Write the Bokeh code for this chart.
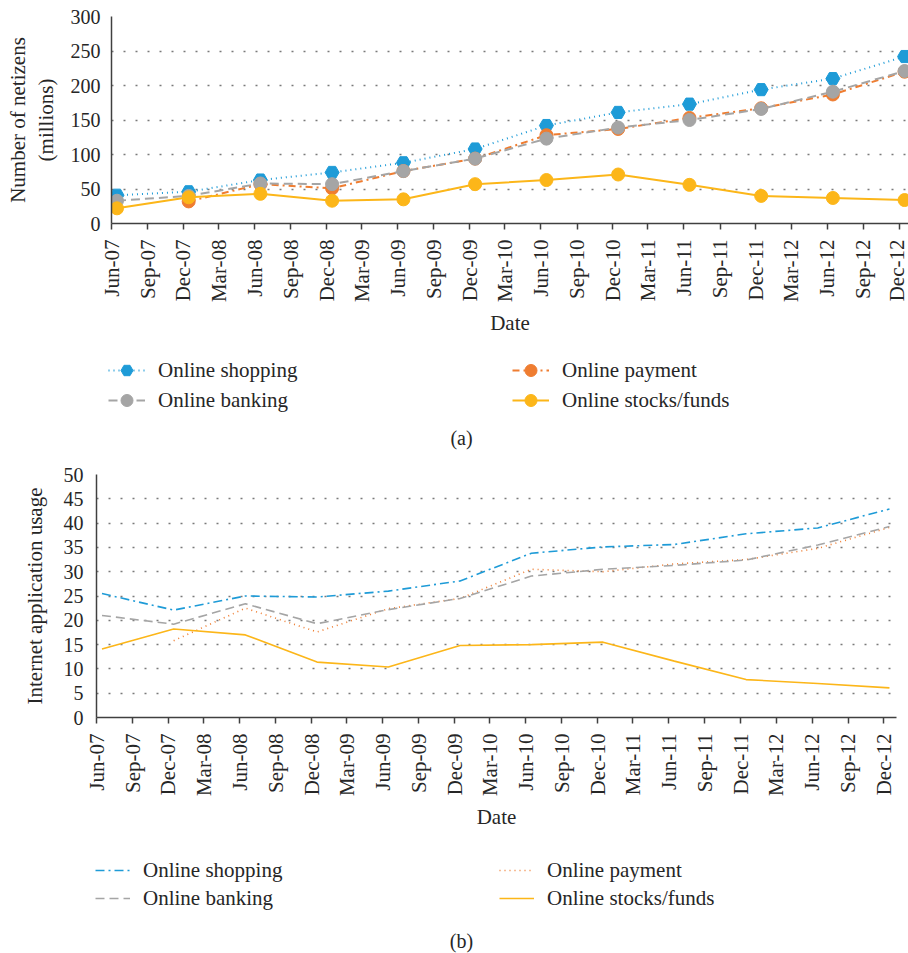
import math
import numpy as np
import pandas as pd
from bokeh.plotting import figure
from bokeh.models import (FixedTicker, DatetimeTickFormatter, Legend, LegendItem,
                          Label, Range1d, ColumnDataSource)
from bokeh.embed import file_html
from bokeh.resources import INLINE

# ---------------- data ----------------
survey_dates = ["Jun-07", "Dec-07", "Jun-08", "Dec-08", "Jun-09", "Dec-09",
                "Jun-10", "Dec-10", "Jun-11", "Dec-11", "Jun-12", "Dec-12"]

tick_labels = ["Jun-07", "Sep-07", "Dec-07", "Mar-08", "Jun-08", "Sep-08", "Dec-08",
               "Mar-09", "Jun-09", "Sep-09", "Dec-09", "Mar-10", "Jun-10", "Sep-10",
               "Dec-10", "Mar-11", "Jun-11", "Sep-11", "Dec-11", "Mar-12", "Jun-12",
               "Sep-12", "Dec-12"]

series_names = ["Online shopping", "Online payment", "Online banking", "Online stocks/funds"]

# (a) number of netizens (millions)
users_shopping = [41, 46, 63, 74, 88, 108, 142, 161, 173, 194, 210, 242]
users_payment = [np.nan, 32, 57, 51, 76, 94, 128, 137, 153, 167, 187, 220]
users_banking = [33, 40, 58, 57, 76, 94, 123, 139, 150, 166, 191, 221]
users_stocks = [22, 38, 43, 33, 35, 57, 63, 71, 56, 40, 37, 34]

# (b) internet application usage (%)
rate_shopping = [25.5, 22.1, 25.0, 24.8, 26.0, 28.1, 33.8, 35.1, 35.6, 37.8, 39.0, 42.9]
rate_payment = [np.nan, 15.8, 22.5, 17.6, 22.4, 24.5, 30.5, 30.0, 31.6, 32.5, 34.8, 39.1]
rate_banking = [21.0, 19.2, 23.4, 19.3, 22.2, 24.5, 29.1, 30.5, 31.3, 32.4, 35.5, 39.3]
rate_stocks = [14.1, 18.2, 17.0, 11.4, 10.4, 14.8, 15.0, 15.5, 11.6, 7.8, 7.0, 6.1]

# ---------------- styling ----------------
FONT = "Liberation Serif"
TXT = "#262626"
AX = "#404040"
C_SHOP = "#1E9BD7"
C_PAY = "#EF7D31"
C_BANK = "#A5A5A5"
C_STOCK = "#FCB619"

obs_x = pd.to_datetime(survey_dates, format="%b-%y") + pd.Timedelta(days=14)
tick_dt = pd.to_datetime(tick_labels, format="%b-%y")
tick_ms = [t.timestamp() * 1000.0 for t in tick_dt]
x_start = tick_dt[0]


def base_figure(width, height, frame_days, y_end, y_step, ylabel,
                b_left, b_right, b_top, b_bottom, ylab_standoff, yaxlab_standoff):
    p = figure(width=width, height=height, x_axis_type="datetime",
               output_backend="svg", toolbar_location=None,
               min_border_left=b_left, min_border_right=b_right,
               min_border_top=b_top, min_border_bottom=b_bottom)
    p.x_range = Range1d(x_start, x_start + pd.Timedelta(days=frame_days))
    p.y_range = Range1d(0, y_end)
    p.outline_line_color = None
    p.background_fill_color = "white"
    p.border_fill_color = "white"

    p.xgrid.visible = False
    p.ygrid.grid_line_color = "#7a7a7a"
    p.ygrid.grid_line_dash = "2 10"
    p.ygrid.grid_line_width = 1.5

    xa = p.xaxis[0]
    xa.ticker = FixedTicker(ticks=tick_ms)
    fmt = "%b-%y"
    xa.formatter = DatetimeTickFormatter(microseconds=fmt, milliseconds=fmt, seconds=fmt,
                                         minsec=fmt, minutes=fmt, hourmin=fmt, hours=fmt,
                                         days=fmt, months=fmt, years=fmt)
    xa.major_label_orientation = math.pi / 2
    xa.axis_label = "Date"
    xa.major_tick_out = 6
    xa.major_tick_in = 0
    xa.minor_tick_out = 0
    xa.minor_tick_in = 0
    xa.major_label_standoff = 10
    xa.axis_label_standoff = 6

    ya = p.yaxis[0]
    ya.ticker = FixedTicker(ticks=list(np.arange(0, y_end + 0.1, y_step)))
    ya.axis_label = ylabel
    ya.major_tick_out = 0
    ya.major_tick_in = 0
    ya.minor_tick_out = 0
    ya.minor_tick_in = 0
    ya.major_label_standoff = ylab_standoff
    ya.axis_label_standoff = yaxlab_standoff
    ya.axis_label_text_line_height = 1.15

    for ax in (xa, ya):
        ax.axis_line_color = AX
        ax.axis_line_width = 1.5
        ax.major_tick_line_color = AX
        ax.major_tick_line_width = 1.5
        ax.major_label_text_font = FONT
        ax.major_label_text_font_size = "20px"
        ax.major_label_text_color = TXT
        ax.axis_label_text_font = FONT
        ax.axis_label_text_font_size = "21px"
        ax.axis_label_text_font_style = "normal"
        ax.axis_label_text_color = TXT
    xa.major_label_text_font_size = "21px"
    return p


def legend_figure(width, height, specs, glyph_w, row_h, label_w, loc, tag, tag_xy):
    """A frame-only strip that carries the legend and the panel tag."""
    lf = figure(width=width, height=height, output_backend="svg", toolbar_location=None,
                x_axis_location=None, y_axis_location=None,
                min_border_left=0, min_border_right=0, min_border_top=0, min_border_bottom=0)
    lf.x_range = Range1d(0, 1)
    lf.y_range = Range1d(0, 1)
    lf.grid.visible = False
    lf.outline_line_color = None
    # legend proxies: one undefined (NaN) row so that the legend can draw their style
    proxy = ColumnDataSource(dict(x=[np.nan], y=[np.nan]))
    items = []
    for name, color, dash, width_, marker, msize in specs:
        rs = [lf.line("x", "y", source=proxy, color=color, line_width=width_, line_dash=dash)]
        if marker is not None:
            rs.append(lf.scatter("x", "y", source=proxy, marker=marker, size=msize, color=color))
        items.append(LegendItem(label=name, renderers=rs))
    leg = Legend(items=items, orientation="horizontal", ncols=2,
                 location=loc, glyph_width=glyph_w, glyph_height=row_h,
                 label_height=row_h, label_standoff=13, label_width=label_w,
                 spacing=0, padding=0, margin=0,
                 border_line_color=None, background_fill_alpha=0,
                 label_text_font=FONT, label_text_font_size="21px",
                 label_text_color=TXT)
    lf.add_layout(leg)
    lf.add_layout(Label(x=tag_xy[0], y=tag_xy[1], x_units="screen", y_units="screen",
                        text=tag, text_align="center", text_baseline="middle",
                        text_font=FONT, text_font_size="20px", text_color=TXT))
    return lf


# ---------------- chart (a) ----------------
pa = base_figure(908, 345, 2034, 300, 50, "Number of netizens\n(millions)",
                 111, 0, 16, 122, 11, 10)

src_a = ColumnDataSource(dict(x=obs_x, shop=users_shopping, pay=users_payment,
                              bank=users_banking, stock=users_stocks))

pa.line("x", "shop", source=src_a, color=C_SHOP, line_width=2, line_dash="1 4")
pa.scatter("x", "shop", source=src_a, marker="hex", size=14, color=C_SHOP)
pa.line("x", "pay", source=src_a, color=C_PAY, line_width=2, line_dash="7 4 2 4")
pa.scatter("x", "pay", source=src_a, marker="circle", size=13, color=C_PAY)
pa.line("x", "bank", source=src_a, color=C_BANK, line_width=2, line_dash="9 5")
pa.scatter("x", "bank", source=src_a, marker="circle", size=13, color=C_BANK)
pa.line("x", "stock", source=src_a, color=C_STOCK, line_width=2)
pa.scatter("x", "stock", source=src_a, marker="circle", size=13, color=C_STOCK)

la = legend_figure(908, 110,
                   [(series_names[0], C_SHOP, "1 4", 2, "hex", 14),
                    (series_names[1], C_PAY, "7 4 2 4", 2, "circle", 13),
                    (series_names[2], C_BANK, "9 5", 2, "circle", 13),
                    (series_names[3], C_STOCK, "solid", 2, "circle", 13)],
                   37, 30, 354, (108, 40), "(a)", (461, 18))

# ---------------- chart (b) ----------------
pb = base_figure(908, 380, 2042, 50, 5, "Internet application usage",
                 96, 12, 19, 118, 13, 14)

src_b = ColumnDataSource(dict(x=obs_x, shop=rate_shopping, pay=rate_payment,
                              bank=rate_banking, stock=rate_stocks))

pb.line("x", "shop", source=src_b, color=C_SHOP, line_width=1.6, line_dash="9 4 2 4")
pb.line("x", "pay", source=src_b, color=C_PAY, line_width=1.6, line_dash="1 4")
pb.line("x", "bank", source=src_b, color=C_BANK, line_width=1.6, line_dash="9 5")
pb.line("x", "stock", source=src_b, color=C_STOCK, line_width=1.6)

lb = legend_figure(908, 118,
                   [(series_names[0], C_SHOP, "9 4 2 4", 1.6, None, 0),
                    (series_names[1], C_PAY, "1 4", 1.6, None, 0),
                    (series_names[2], C_BANK, "9 5", 1.6, None, 0),
                    (series_names[3], C_STOCK, "solid", 1.6, None, 0)],
                   35, 28, 356, (95, 41), "(b)", (461, 13))

open("out.html", "w").write(file_html([pa, la, pb, lb], INLINE))
